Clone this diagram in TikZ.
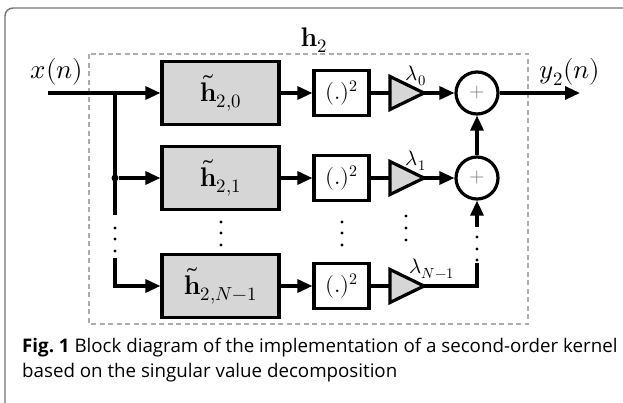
\documentclass[tikz,border=0pt]{standalone}
\usepackage{fontspec}
\usepackage{unicode-math}
\setmathfont{Latin Modern Math}
\setsansfont{Open Sans}
\usetikzlibrary{arrows.meta}
\definecolor{boxgray}{gray}{0.84}
\definecolor{framegray}{gray}{0.45}
\definecolor{dashgray}{gray}{0.68}
\begin{document}
\begin{tikzpicture}[x=1bp,y=-1bp,
  wire/.style={draw,line width=3.2bp},
  sig/.style={wire,-{Triangle[length=15bp,width=13bp]}},
  filt/.style={draw,line width=3.2bp,fill=boxgray,minimum width=117bp,minimum height=63bp,inner sep=0pt},
  sqr/.style={draw,line width=3.2bp,fill=white,minimum width=55bp,minimum height=45bp,inner sep=0pt},
  sumnode/.style={draw,circle,line width=3.2bp,minimum size=42bp,inner sep=0pt},
  gain/.style={draw,line width=3.2bp,fill=boxgray,line join=miter},
  vdot/.style={circle,fill,inner sep=0pt,minimum size=3.2bp}]
\fontsize{27}{32}\selectfont
\useasboundingbox (0,0) rectangle (623,402);
% frame
\draw[framegray,line width=1.4bp,rounded corners=8bp] (5,410) -- (5,8) -- (630,8);
\draw[dashgray,line width=1.6bp,dash pattern=on 5bp off 3.5bp] (89,54) rectangle (528,324);
\node (h2) at (314,40) {$\mathbf{h}_2$};
\newcommand\branch[4]{
\node[filt] (f#1) at (220.5,#2) {$\tilde{\mathbf{h}}_{2,#3}$};
\node[sqr,font=\fontsize{23}{28}\selectfont] (q#1) at (341.5,#2) {$(.)^2$};
\coordinate (gi#1) at (390,#2);
\coordinate (go#1) at (424,#2);
\path[gain] (390,#2-16.5) -- (424,#2) -- (390,#2+16.5) -- cycle;
\node[font=\fontsize{21}{24}\selectfont,inner sep=0pt] (l#1) at (#4,#2-17) {$\lambda_{#3}$};
\path[sig] (f#1) -- (q#1);
\path[wire] (q#1) -- (gi#1);
}
\branch{0}{93}{0}{416}
\branch{1}{178}{1}{416}
\branch{2}{286}{N-1}{432}
% adders
\node[sumnode] (s0) at (477,93) {\textcolor{gray}{\fontsize{20}{24}\selectfont$+$}};
\node[sumnode] (s1) at (477,178) {\textcolor{gray}{\fontsize{20}{24}\selectfont$+$}};
\path[sig] (go0) -- (s0);
\path[sig] (go1) -- (s1);
\path[sig] (s1) -- (s0);
% input side
\node (x) at (57,72) {$x(n)$};
\coordinate (xin) at (48,93);
\coordinate (br0) at (115,93);
\node[vdot,minimum size=7bp] (br1) at (115,178) {};
\coordinate (br2a) at (115,215);
\coordinate (br2b) at (115,258);
\coordinate (br2) at (115,286);
\path[sig] (xin) -- (f0);
\path[wire] (br0) -- (br2a);
\path[sig] (br2b) -- (br2) -- (f2);
\path[sig] (br1) -- (f1);
\foreach \yy in {228,239,251} \node[vdot] at (115,\yy) {};
% output side
\coordinate (yout) at (580,93);
\node (y) at (570,72) {$y_2(n)$};
\path[sig] (s0) -- (yout);
\coordinate (up2) at (477,263);
\coordinate (up2b) at (477,227);
\path[wire] (go2) -- (477,286) -- (up2);
\path[sig] (up2b) -- (s1);
\foreach \yy in {237,249,260} \node[vdot] at (477,\yy) {};
% dots between rows
\foreach \yy in {222,233,245} {
  \node[vdot] at (221,\yy) {};
  \node[vdot] at (342,\yy) {};
}
\foreach \yy in {216,228,240} \node[vdot] at (406,\yy) {};
% caption
\node[anchor=north west,align=left,inner sep=0pt,font=\sffamily\fontsize{18.8}{25}\selectfont] (cap) at (22,338)
  {\textbf{Fig.\ 1} Block diagram of the implementation of a second-order kernel\\based on the singular value decomposition};
\end{tikzpicture}
\end{document}
